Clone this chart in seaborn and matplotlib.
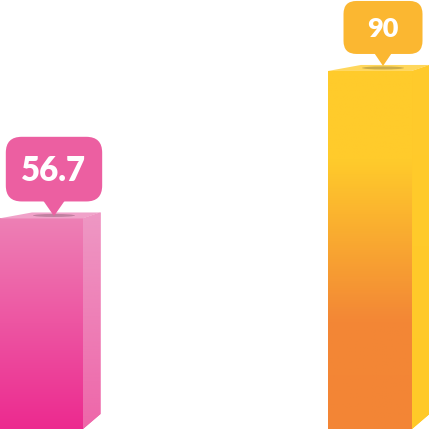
import numpy as np
import pandas as pd
import matplotlib.pyplot as plt
import seaborn as sns
from matplotlib.patches import Polygon, FancyBboxPatch, Ellipse
from matplotlib.colors import LinearSegmentedColormap
from matplotlib.transforms import IdentityTransform

# data
categories = ["A", "B"]
values = [56.7, 90]
labels = ["56.7", "90"]

# styles (gradient stops go bottom -> top of the visible bar)
front_colors = [[(0, "#EC2A8F"), (1, "#EE80B5")],
                [(0, "#F38535"), (0.30, "#F38736"), (0.75, "#FFCB2B"), (1, "#FFCB2B")]]
side_colors = [[(0, "#EE66A9"), (1, "#EE98C4")],
               [(0, "#FFC928"), (1, "#FFCB2C")]]
top_colors = ["#F0A2C9", "#FFD75C"]
badge_colors = ["#EC5FA1", "#FBB731"]
badge_scale = [1.22, 1.0]

W = H = 429
xlim = (-0.1246, 1.1793)
ylim = (9.17, 106.02)


def vgrad(ax, stops, extent, clip, z):
    cmap = LinearSegmentedColormap.from_list("g", stops)
    img = ax.imshow(np.linspace(1, 0, 256).reshape(-1, 1), cmap=cmap, vmin=0, vmax=1,
                    extent=extent, aspect="auto", origin="upper", zorder=z)
    img.set_clip_path(clip)


if __name__ == "__main__":
    df = pd.DataFrame({"category": categories, "value": values})

    fig = plt.figure(figsize=(W / 100, H / 100), dpi=100)
    ax = fig.add_axes([0, 0, 1, 1])
    sns.barplot(data=df, x="category", y="value", hue="category",
                palette=[c[0][1] for c in front_colors], width=0.2553,
                linewidth=0, errorbar=None, legend=False, ax=ax, zorder=2)
    bars = list(ax.patches)[:len(values)]

    ax.set_xlim(xlim)
    ax.set_ylim(ylim)
    ax.axis("off")

    sx = W / (xlim[1] - xlim[0])
    sy = H / (ylim[1] - ylim[0])
    px = lambda p: p / sx
    py = lambda p: p / sy

    for i, bar in enumerate(bars):
        x0 = bar.get_x()
        x1 = x0 + bar.get_width()
        h = bar.get_height()
        yb = ylim[0]

        # front gradient
        vgrad(ax, front_colors[i], (x0, x1, yb, h), bar, 2.1)

        # side face
        side = Polygon([(x1, h), (x1 + px(17.5), h + py(6)), (x1 + px(17.5), yb + py(15)), (x1, yb)],
                       closed=True, facecolor=side_colors[i][0][1], lw=0, zorder=2)
        ax.add_patch(side)
        vgrad(ax, side_colors[i], (x1, x1 + px(17.5), yb, h + py(6)), side, 2.1)

        # top face
        top = Polygon([(x0, h), (x1, h), (x1 + px(17.5), h + py(6)), (x0 + px(33), h + py(6))],
                      closed=True, facecolor=top_colors[i], lw=0, zorder=2.2)
        ax.add_patch(top)

        # shadow under the pointer
        ax.add_patch(Ellipse((x0 + bar.get_width() / 2 + px(13), h + py(3)), px(42), py(3),
                             facecolor="black", alpha=0.2, lw=0, zorder=2.3))

    ax.set_xlim(xlim)
    ax.set_ylim(ylim)

    # value badges, drawn in pixels
    for i, bar in enumerate(bars):
        s = badge_scale[i]
        cx, top = ax.transData.transform((bar.get_x() + bar.get_width() / 2, bar.get_height()))
        tx = cx + 13
        bw, bh = 79 * s, 53 * s
        by = top + 17
        box = FancyBboxPatch((tx - bw / 2, by), bw, bh,
                             boxstyle="round,pad=0,rounding_size=%.1f" % (13 * s),
                             facecolor=badge_colors[i], lw=0, transform=IdentityTransform(), zorder=3)
        fig.patches.append(box)
        tri = Polygon([(tx - 9.5 * s, by + 2), (tx + 9.5 * s, by + 2), (tx, by - 12 * s)],
                      closed=True, facecolor=badge_colors[i], lw=0, transform=IdentityTransform(), zorder=3)
        fig.patches.append(tri)
        fig.text(tx / W, (by + bh / 2 - 9.5 * s) / H, labels[i], ha="center", va="baseline",
                 color="white", fontsize=19.5 * s, fontweight="heavy", family=["Lato", "DejaVu Sans"],
                 zorder=4)

    plt.savefig("out.png", dpi=100)
    plt.close()
